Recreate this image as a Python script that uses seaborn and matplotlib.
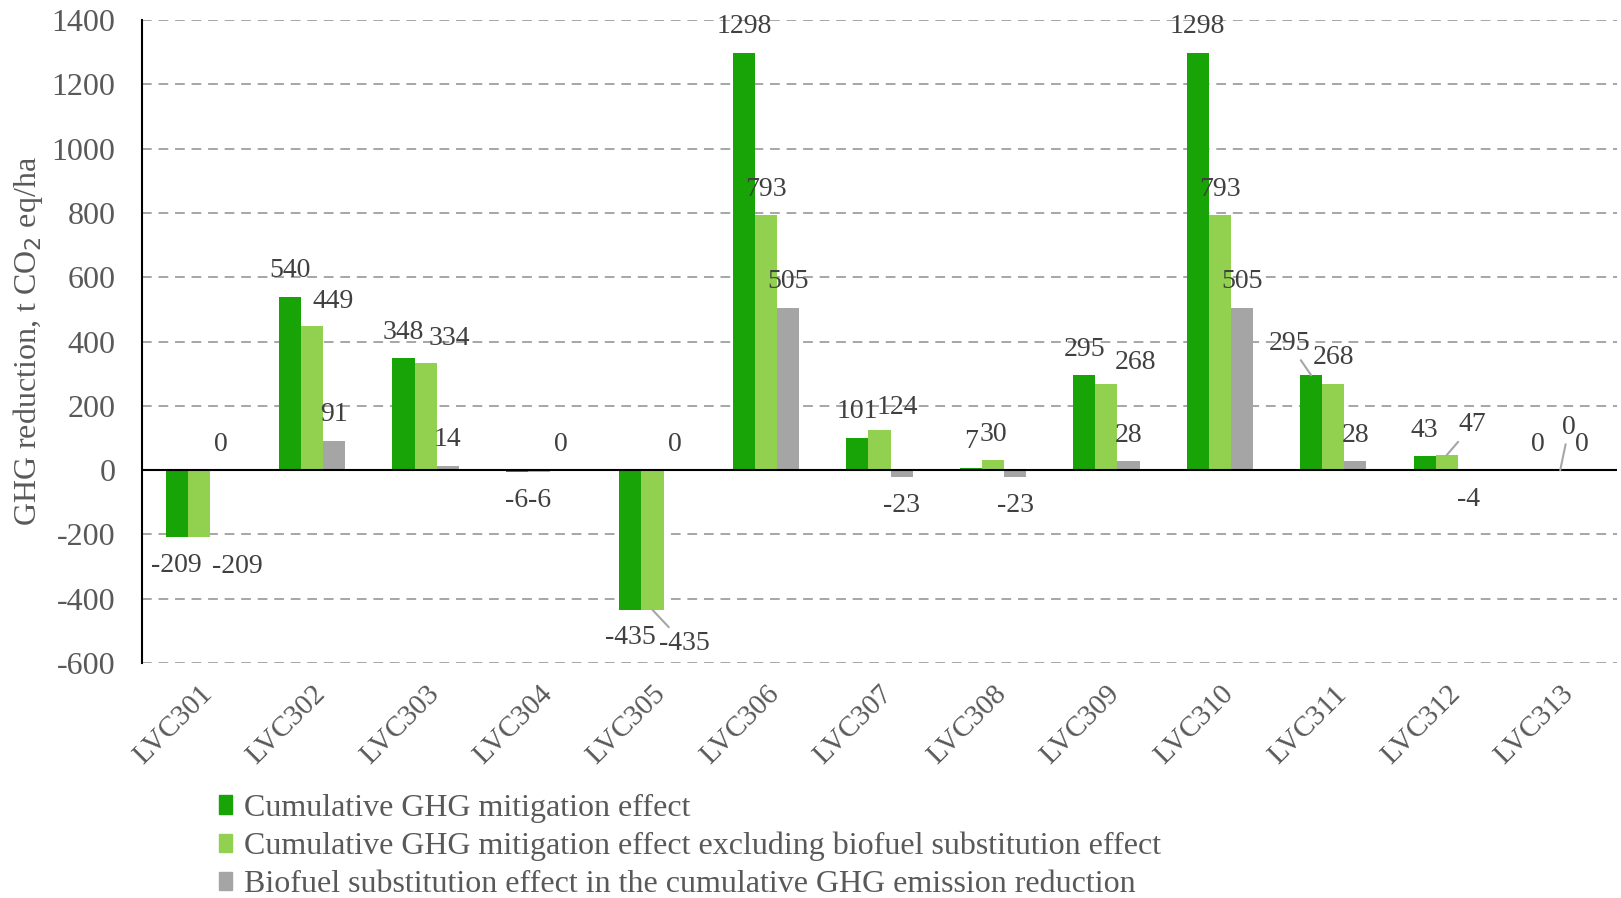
import matplotlib
matplotlib.use("Agg")
import matplotlib.pyplot as plt
import seaborn as sns
import pandas as pd

# data
categories = ["LVC301", "LVC302", "LVC303", "LVC304", "LVC305", "LVC306", "LVC307",
              "LVC308", "LVC309", "LVC310", "LVC311", "LVC312", "LVC313"]
series_names = [
    "Cumulative GHG mitigation effect",
    "Cumulative GHG mitigation effect excluding biofuel substitution effect",
    "Biofuel substitution effect in the cumulative GHG emission reduction",
]
cumulative = [-209, 540, 348, -6, -435, 1298, 101, 7, 295, 1298, 295, 43, 0]
excl_biofuel = [-209, 449, 334, -6, -435, 793, 124, 30, 268, 793, 268, 47, 0]
biofuel = [0, 91, 14, 0, 0, 505, -23, -23, 28, 505, 28, -4, 0]
y_ticks = [-600, -400, -200, 0, 200, 400, 600, 800, 1000, 1200, 1400]

colors = ["#18A306", "#92D050", "#A5A5A5"]
text_col = "#404040"
tick_col = "#595959"

sns.set_style("white")
plt.rcParams["font.family"] = ["Liberation Serif", "DejaVu Serif"]
plt.rcParams["axes.unicode_minus"] = False

all_values = [cumulative, excl_biofuel, biofuel]
df = pd.DataFrame({
    "category": categories * 3,
    "series": [s for s in series_names for _ in categories],
    "value": cumulative + excl_biofuel + biofuel,
})

fig = plt.figure(figsize=(16.21, 8.98), dpi=100)
ax = fig.add_axes([0.0876, 0.2617, 0.9099, 0.716])

sns.barplot(data=df, x="category", y="value", hue="series", hue_order=series_names,
            order=categories, palette=colors, saturation=1, width=0.585,
            linewidth=0, legend=True, ax=ax)

ax.set_ylim(-600, 1400)
ax.set_xlim(-0.5, len(categories) - 0.5)
ax.set_yticks(y_ticks)
ax.set_yticklabels([str(t) for t in y_ticks], fontsize=23, color=tick_col)
for t in y_ticks:
    if t != 0:
        ax.axhline(t, color="#A6A6A6", lw=1.4, ls=(0, (5, 3.5)), zorder=0)
ax.axhline(0, color="black", lw=1.5, zorder=3)

for s in ["top", "right", "bottom"]:
    ax.spines[s].set_visible(False)
ax.spines["left"].set_color("black")
ax.spines["left"].set_linewidth(1.5)
ax.tick_params(axis="both", length=0)
ax.tick_params(axis="y", pad=19)
ax.tick_params(axis="x", pad=13)
ax.set_xticks(range(len(categories)))
ax.set_xticklabels(categories, rotation=45, ha="right", rotation_mode="anchor",
                   fontsize=21, color=tick_col)
ax.set_xlabel("")
ax.set_ylabel("GHG reduction, t CO$_2$ eq/ha", fontsize=23, color=tick_col, labelpad=5)

# label offsets (pixels) that were moved by hand in the original
overrides = {
    (1, 0): (39, -29, False),
    (1, 1): (21, 24, False),
    (1, 2): (24, 24, False),
    (1, 4): (32, -34, True),
    (1, 6): (18, 23, False),
    (1, 8): (29, 21, False),
    (0, 10): (-22, 32, True),
    (1, 11): (26, 30, True),
    (1, 12): (9, 43, True),
}

for si, (cont, vals) in enumerate(zip(ax.containers, all_values)):
    for ci, (bar, v) in enumerate(zip(cont, vals)):
        x = bar.get_x() + bar.get_width() / 2
        dx, dy, leader = overrides.get((si, ci), (0, 26 if v >= 0 else -28, False))
        arrow = dict(arrowstyle="-", color="#A6A6A6", lw=1.5, shrinkA=1, shrinkB=0) if leader else None
        ax.annotate(f"{v}", xy=(x, v), xytext=(dx, dy), textcoords="offset pixels",
                    ha="center", va="center", fontsize=20, color=text_col,
                    arrowprops=arrow, zorder=5)

ax.get_legend().remove()
handles = [plt.Rectangle((0, 0), 1, 1, color=c) for c in colors]
fig.legend(handles, series_names, loc="upper left", bbox_to_anchor=(0.135, 0.116),
           frameon=False, fontsize=23, handlelength=0.4, handleheight=0.5,
           handletextpad=0.4, labelspacing=0.28, borderpad=0, borderaxespad=0,
           labelcolor=tick_col)

fig.savefig("out.png", dpi=100)
